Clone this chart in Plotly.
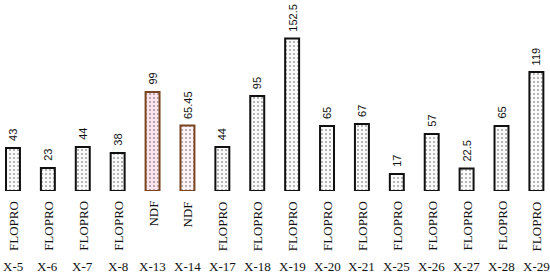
import plotly.graph_objects as go

categories = ["X-5", "X-6", "X-7", "X-8", "X-13", "X-14", "X-17", "X-18", "X-19",
              "X-20", "X-21", "X-25", "X-26", "X-27", "X-28", "X-29"]
values = [43, 23, 44, 38, 99, 65.45, 44, 95, 152.5, 65, 67, 17, 57, 22.5, 65, 119]
value_labels = ["43", "23", "44", "38", "99", "65.45", "44", "95", "152.5",
                "65", "67", "17", "57", "22.5", "65", "119"]
methods = ["FLOPRO", "FLOPRO", "FLOPRO", "FLOPRO", "NDF", "NDF", "FLOPRO", "FLOPRO",
           "FLOPRO", "FLOPRO", "FLOPRO", "FLOPRO", "FLOPRO", "FLOPRO", "FLOPRO", "FLOPRO"]

line_colors = ["#7a4520" if m == "NDF" else "#111111" for m in methods]
bg_colors = []
for c, m in zip(categories, methods):
    if m == "NDF":
        bg_colors.append("#fde4ec" if c == "X-13" else "#fdf2f5")
    else:
        bg_colors.append("#fafafa")
fg_colors = ["#f3dae2" if m == "NDF" else "#e2e2e2" for m in methods]

xs = list(range(len(categories)))

fig = go.Figure()
fig.add_trace(go.Bar(
    x=xs, y=values, width=0.4,
    marker=dict(
        color=bg_colors,
        line=dict(color=line_colors, width=2),
        pattern=dict(shape=".", fgcolor=fg_colors, bgcolor=bg_colors, size=4, solidity=0.2),
    ),
    hoverinfo="skip",
))

annotations = []
for x, v, lab, m, c in zip(xs, values, value_labels, methods, categories):
    annotations.append(dict(x=x, y=v, text=lab, textangle=-90, showarrow=False,
                            xanchor="center", yanchor="bottom", yshift=5,
                            font=dict(family="Liberation Sans, Arial", size=11, color="#111")))
    annotations.append(dict(x=x, y=0, text=m, textangle=-90, showarrow=False,
                            xanchor="center", yanchor="top", yshift=-8,
                            font=dict(family="Liberation Serif, Times New Roman", size=13, color="#111")))
    annotations.append(dict(x=x, y=0, text=c, showarrow=False,
                            xanchor="center", yanchor="top", yshift=-66,
                            font=dict(family="Liberation Serif, Times New Roman", size=13, color="#111")))

fig.update_layout(
    width=550, height=276,
    margin=dict(l=0, r=0, t=0, b=85),
    paper_bgcolor="white", plot_bgcolor="white",
    showlegend=False,
    xaxis=dict(range=[-0.372, 15.39], visible=False, fixedrange=True),
    yaxis=dict(range=[0, 191], visible=False, fixedrange=True),
    annotations=annotations,
)

fig.write_html("out.html", config={"displayModeBar": False},
               post_script="document.body.style.margin='0';document.body.style.overflow='hidden';")
